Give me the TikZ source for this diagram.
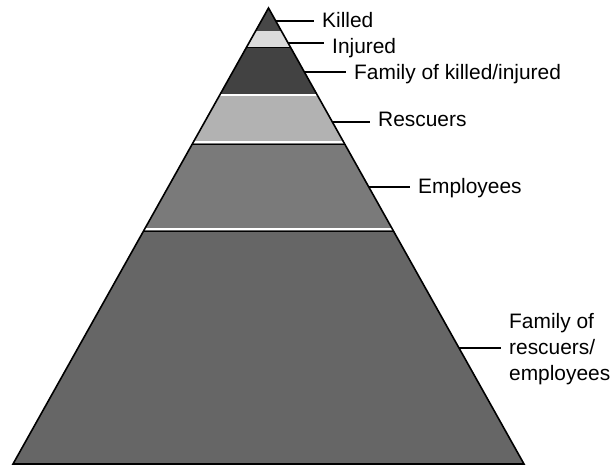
\documentclass[tikz,border=0pt]{standalone}
\usepackage{fontspec}
\setmainfont{Liberation Sans}
\begin{document}
\begin{tikzpicture}[x=1pt,y=-1pt,
  band/.style={draw=none},
  sep/.style={white,line width=1.8pt},
  outline/.style={black,line width=1.6pt,line join=miter},
  leader/.style={black,line width=1.2pt},
  lbl/.style={anchor=base west,inner ysep=0pt,inner xsep=8pt,font=\fontsize{20.9}{26}\selectfont,align=left}]
\useasboundingbox (0,0) rectangle (616,467);
% bands
\fill[band,black!72] (268.5,8) -- (281.4,31) -- (255.6,31) -- cycle;
\fill[band,black!14] (255.6,31) -- (281.4,31) -- (290.35,47) -- (246.65,47) -- cycle;
\fill[band,black!74] (246.65,47) -- (290.35,47) -- (317.25,95) -- (219.75,95) -- cycle;
\fill[band,black!30] (219.75,95) -- (317.25,95) -- (344.14,143) -- (192.86,143) -- cycle;
\fill[band,black!52] (192.86,143) -- (344.14,143) -- (392.89,230) -- (144.11,230) -- cycle;
\fill[band,black!60] (144.11,230) -- (392.89,230) -- (524,464) -- (13,464) -- cycle;
% separators
\draw[black,line width=0.8pt] (246.65,47) -- (290.35,47);
\draw[sep] (219.75,95) -- (317.25,95);
\draw[sep] (192.86,142) -- (344.14,142);
\draw[black,line width=0.9pt] (192.86,144.2) -- (344.14,144.2);
\draw[sep] (144.11,229) -- (392.89,229);
\draw[black,line width=0.9pt] (144.11,231.2) -- (392.89,231.2);
% outline
\draw[outline] (268.5,8) -- (524,464) -- (13,464) -- cycle;
% edge points
\coordinate (e1) at (275.8,21);
\coordinate (e2) at (288.1,43);
\coordinate (e3) at (304.4,72);
\coordinate (e4) at (332.4,122);
\coordinate (e5) at (368.8,187);
\coordinate (e6) at (459.0,348);
% labels
\node[lbl] (killed) at (314,27) {Killed};
\node[lbl] (injured) at (324,53) {Injured};
\node[lbl] (famki) at (346,79) {Family of killed/injured};
\node[lbl] (resc) at (370,126) {Rescuers};
\node[lbl] (empl) at (410,193) {Employees};
\node[lbl] (famre) at (501,380) {Family of\\rescuers/\\employees};
% leaders
\draw[leader] (e1) -- (e1 -| killed.west);
\draw[leader] (e2) -- (e2 -| injured.west);
\draw[leader] (e3) -- (e3 -| famki.west);
\draw[leader] (e4) -- (e4 -| resc.west);
\draw[leader] (e5) -- (e5 -| empl.west);
\draw[leader] (e6) -- (e6 -| famre.west);
\end{tikzpicture}
\end{document}
